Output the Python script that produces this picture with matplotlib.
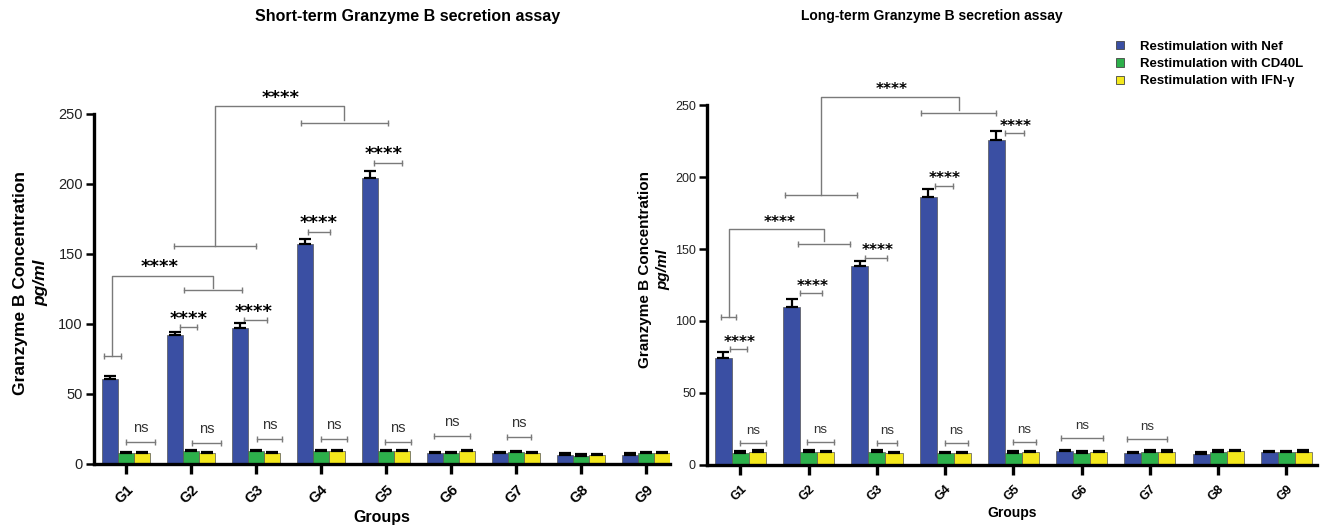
import numpy as np
import matplotlib
matplotlib.use('Agg')
import matplotlib.pyplot as plt
from matplotlib.patches import Patch

plt.rcParams['font.family'] = ['Liberation Sans', 'DejaVu Sans']

groups = ['G1', 'G2', 'G3', 'G4', 'G5', 'G6', 'G7', 'G8', 'G9']
series = ['Restimulation with Nef', 'Restimulation with CD40L', 'Restimulation with IFN-γ']
colors = ['#3A4FA3', '#2DB04B', '#F4E81C']

# short-term assay (pg/ml), mean and SD
short_nef = [61, 92, 97, 157, 204, 7.5, 7.5, 6.5, 6.5]
short_cd40l = [8, 9, 9, 9, 9, 7.5, 8.5, 6, 7.5]
short_ifng = [8, 8, 8, 9.5, 9, 9, 7.5, 6.5, 7.5]
short_nef_sd = [2, 2.5, 3.5, 3.5, 5, 1, 1, 1, 1]
short_cd40l_sd = [0.8, 0.8, 0.8, 0.8, 0.8, 0.8, 0.8, 0.8, 0.8]
short_ifng_sd = [0.8, 0.8, 0.8, 0.8, 0.8, 1, 0.8, 0.8, 0.8]

# long-term assay (pg/ml), mean and SD
long_nef = [74.5, 110, 138, 186, 226, 9.5, 8.5, 7.9, 9]
long_cd40l = [8.6, 9.3, 9.3, 8, 8.6, 8.5, 9.3, 9.3, 9]
long_ifng = [9.3, 9, 8.2, 8.5, 8.8, 9, 9.3, 9.5, 9.3]
long_nef_sd = [3.7, 5.5, 4, 6, 6, 0.8, 0.8, 0.8, 0.8]
long_cd40l_sd = [0.8, 0.8, 0.8, 0.8, 0.8, 1, 0.8, 0.8, 0.8]
long_ifng_sd = [0.8, 0.8, 0.8, 0.8, 0.8, 0.8, 0.8, 0.8, 0.8]

BR = '#7a7a7a'
STAR_FONT = ['DejaVu Sans']


def stars(ax, x, y, fs):
    ax.text(x, y, '****', ha='center', va='center', fontsize=fs, fontweight='bold',
            family=STAR_FONT, clip_on=False)


def cap_line(ax, x0, x1, y, lw=1.0):
    ax.plot([x0, x1], [y, y], color=BR, lw=lw, clip_on=False)
    ax.plot([x0, x1], [y, y], ls='none', marker='|', ms=5, mew=lw, color=BR, clip_on=False)


def big_bracket(ax, left, y_left, right, y_right, y_top, star_x, fs, dy):
    xl = (left[0] + left[1]) / 2
    xr = (right[0] + right[1]) / 2
    cap_line(ax, left[0], left[1], y_left)
    cap_line(ax, right[0], right[1], y_right)
    ax.plot([xl, xl, xr, xr], [y_left, y_top, y_top, y_right + 2], color=BR, lw=1.0, clip_on=False)
    stars(ax, star_x, y_top + dy, fs)


def draw_bars(ax, vals, sds, xmax, tick_fs, xpad):
    x = np.arange(len(groups))
    w = 0.25
    for k in range(3):
        xs = x + (k - 1) * w
        ax.bar(xs, vals[k], width=w, color=colors[k], edgecolor='#555555', linewidth=0.5, zorder=2)
        ax.errorbar(xs, vals[k], yerr=[np.zeros(len(groups)), sds[k]], fmt='none',
                    ecolor='black', elinewidth=1.6, capsize=4.5, capthick=1.6, zorder=3)
    ax.set_xlim(-0.49, xmax)
    ax.set_ylim(0, 250)
    ax.set_yticks([0, 50, 100, 150, 200, 250])
    ax.set_xticks(x)
    ax.set_xticklabels(groups, rotation=45, ha='right', va='top', rotation_mode='anchor',
                       fontweight='bold', fontsize=tick_fs)
    for s in ['top', 'right']:
        ax.spines[s].set_visible(False)
    for s in ['left', 'bottom']:
        ax.spines[s].set_linewidth(2.4)
    ax.tick_params(axis='y', width=1.8, length=6, labelsize=tick_fs, labelcolor='#222222', pad=2)
    ax.tick_params(axis='x', width=2.4, length=7, pad=xpad)


fig = plt.figure(figsize=(13.23, 5.29), dpi=100)

# short-term panel
ax1 = fig.add_axes([0.0711, 0.1229, 0.4353, 0.6616])
draw_bars(ax1, [short_nef, short_cd40l, short_ifng],
          [short_nef_sd, short_cd40l_sd, short_ifng_sd], 8.37, 10.5, 6)
ax1.set_xlabel('Groups', fontweight='bold', fontsize=11.5, labelpad=3)

# Nef vs CD40L within groups
for g, (a, b, lvl) in zip([1, 2, 3, 4], [(-0.17, 0.09, 97.6), (-0.18, 0.17, 102.9),
                                         (-0.2, 0.14, 166), (-0.18, 0.25, 215.2)]):
    cap_line(ax1, g + a, g + b, lvl)
    stars(ax1, g - 0.03, lvl + 6, 13)
# CD40L vs IFN-g
for g, (a, b, lvl) in zip(range(7), [(0, 0.45, 16), (0.01, 0.47, 15.2), (0.02, 0.4, 18),
                                     (0, 0.4, 18), (-0.02, 0.38, 16), (-0.26, 0.3, 20),
                                     (-0.14, 0.23, 19.5)]):
    cap_line(ax1, g + a, g + b, lvl)
    ax1.text(g + (a + b) / 2, lvl + 10, 'ns', ha='center', va='center', fontsize=10.5, color='#333333')
big_bracket(ax1, (-0.34, -0.08), 77, (0.89, 1.79), 124, 134.5, 0.52, 13, 6)
big_bracket(ax1, (0.74, 2.0), 155.9, (2.69, 4.03), 243.8, 255.7, 2.38, 13, 6)

# long-term panel
ax2 = fig.add_axes([0.5344, 0.121, 0.4611, 0.6805])
draw_bars(ax2, [long_nef, long_cd40l, long_ifng],
          [long_nef_sd, long_cd40l_sd, long_ifng_sd], 8.45, 9, 6)
ax2.set_xlabel('Groups', fontweight='bold', fontsize=10, labelpad=2)

for g, (a, b, lvl) in zip([0, 1, 2, 3, 4], [(-0.16, 0.1, 80.3), (-0.12, 0.19, 119.2),
                                            (-0.17, 0.15, 144), (-0.15, 0.11, 193.75),
                                            (-0.13, 0.16, 230.3)]):
    cap_line(ax2, g + a, g + b, lvl)
    stars(ax2, g + (a + b) / 2 + 0.02, lvl + 5, 11)
for g, (a, b, lvl) in zip(range(7), [(0, 0.38, 15), (-0.02, 0.37, 16), (0, 0.29, 15),
                                     (0, 0.33, 15), (0, 0.33, 16), (-0.3, 0.31, 18.75),
                                     (-0.34, 0.25, 18)]):
    cap_line(ax2, g + a, g + b, lvl)
    ax2.text(g + (a + b) / 2, lvl + 8.5, 'ns', ha='center', va='center', fontsize=9.5, color='#333333')
big_bracket(ax2, (-0.28, -0.06), 102.5, (0.85, 1.6), 153.5, 163.7, 0.57, 11, 5)
big_bracket(ax2, (0.66, 1.71), 187.3, (2.65, 3.75), 244.7, 255.8, 2.22, 11, 5)

# titles and axis labels
fig.text(408 / 1323, 1 - 16 / 529, 'Short-term Granzyme B secretion assay', ha='center', va='center',
         fontsize=11.5, fontweight='bold')
fig.text(932 / 1323, 1 - 16 / 529, 'Long-term Granzyme B secretion assay', ha='center', va='center',
         fontsize=10, fontweight='bold')
fig.text(21 / 1323, 1 - 283 / 529, 'Granzyme B Concentration', rotation=90, ha='center', va='center',
         fontsize=12.5, fontweight='bold')
fig.text(41 / 1323, 1 - 283 / 529, 'pg/ml', rotation=90, ha='center', va='center',
         fontsize=12.5, fontweight='bold', style='italic')
fig.text(645 / 1323, 1 - 270 / 529, 'Granzyme B Concentration', rotation=90, ha='center', va='center',
         fontsize=11, fontweight='bold')
fig.text(663 / 1323, 1 - 270 / 529, 'pg/ml', rotation=90, ha='center', va='center',
         fontsize=11, fontweight='bold', style='italic')

handles = [Patch(facecolor=c, edgecolor='#444444', linewidth=0.6) for c in colors]
fig.legend(handles, series, loc='upper left', bbox_to_anchor=(1104 / 1323, 1 - 29 / 529),
           frameon=False, handlelength=0.6, handleheight=0.6, handletextpad=1.2,
           labelspacing=0.4, prop={'weight': 'bold', 'size': 9.5})

fig.savefig('out.png', dpi=100)
